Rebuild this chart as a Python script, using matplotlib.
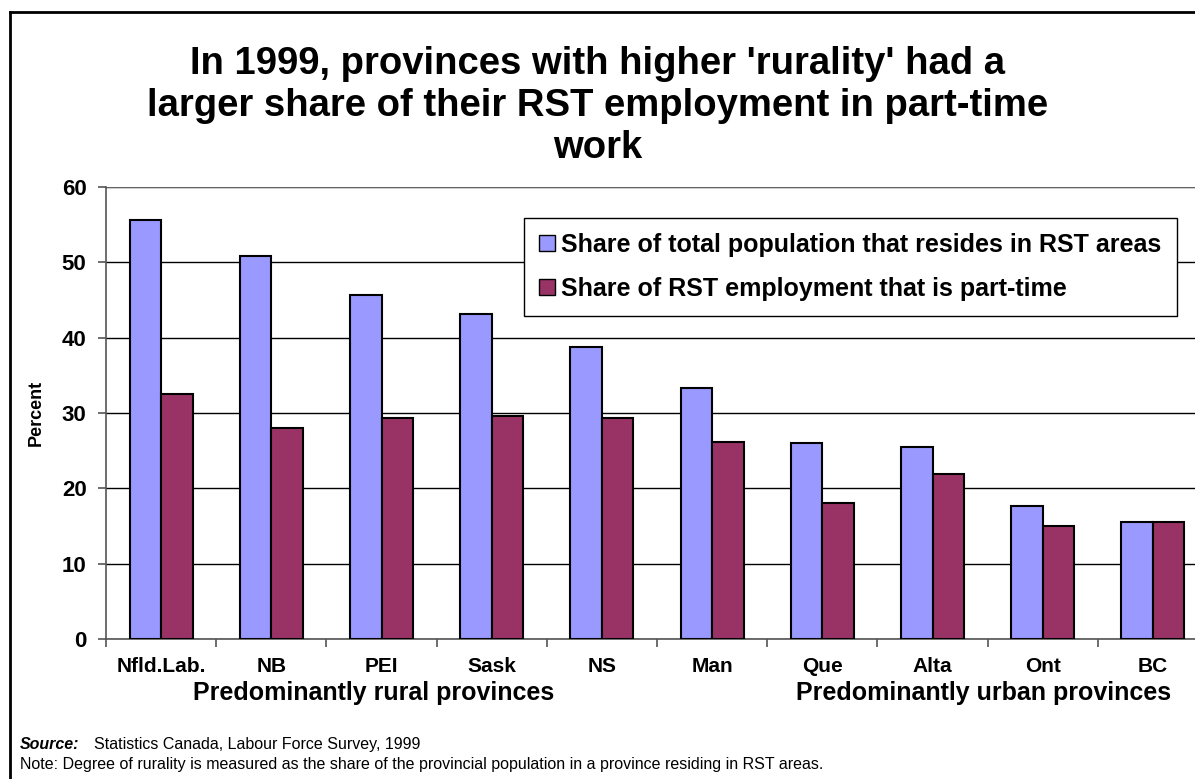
import numpy as np
import matplotlib
matplotlib.use("Agg")
import matplotlib.pyplot as plt
from matplotlib.lines import Line2D
from matplotlib.patches import Patch

plt.rcParams['font.family'] = ['Liberation Sans', 'DejaVu Sans']

provinces = ["Nfld.Lab.", "NB", "PEI", "Sask", "NS", "Man", "Que", "Alta", "Ont", "BC"]
rst_population = [55.6, 50.8, 45.6, 43.2, 38.7, 33.3, 26.0, 25.5, 17.7, 15.5]
rst_part_time = [32.5, 28.0, 29.3, 29.6, 29.3, 26.1, 18.0, 21.9, 15.0, 15.5]
yticks = [0, 10, 20, 30, 40, 50, 60]

label_pop = "Share of total population that resides in RST areas"
label_pt = "Share of RST employment that is part-time"
title = "In 1999, provinces with higher 'rurality' had a\nlarger share of their RST employment in part-time\nwork"

blue = "#9999FF"
plum = "#993366"

fig = plt.figure(figsize=(11.95, 7.79), dpi=100)
ax = fig.add_axes([106 / 1195, 1 - 639 / 779, 1102 / 1195, 452 / 779])

x = np.arange(len(provinces))
w = 0.286
ax.bar(x - w / 2, rst_population, w, color=blue, edgecolor="black", linewidth=1.5, zorder=3)
ax.bar(x + w / 2, rst_part_time, w, color=plum, edgecolor="black", linewidth=1.5, zorder=3)

ax.set_xlim(-0.5, len(provinces) - 0.5)
ax.set_ylim(0, 60)
ax.set_yticks(yticks)
ax.set_yticklabels([str(v) for v in yticks], fontsize=16, fontweight="bold")
ax.yaxis.grid(True, color="black", linewidth=1.0, zorder=0)
ax.set_axisbelow(True)

ax.set_xticks(x)
ax.set_xticklabels(provinces, fontsize=15, fontweight="bold")
ax.tick_params(axis="x", length=0, pad=13)
ax.set_xticks(np.arange(len(provinces) + 1) - 0.5, minor=True)
ax.tick_params(axis="x", which="minor", length=6, width=1.2, color="#555555", direction="out")
ax.tick_params(axis="y", length=6, width=1.2, color="#555555", direction="out", pad=8)

for s in ["top", "right"]:
    ax.spines[s].set_visible(False)
ax.spines["left"].set_color("#555555")
ax.spines["bottom"].set_color("#555555")
ax.spines["left"].set_linewidth(1.2)
ax.spines["bottom"].set_linewidth(1.2)
ax.axhline(60, color="#777777", linewidth=1.2, zorder=1)

ax.set_ylabel("Percent", fontsize=13, fontweight="bold")
ax.yaxis.set_label_coords(-(106 - 45) / 1102, 0.5)

leg = ax.legend(handles=[Patch(facecolor=blue, edgecolor="black", label=label_pop),
                         Patch(facecolor=plum, edgecolor="black", label=label_pt)],
                loc="upper left", bbox_to_anchor=((524 - 106) / 1102, (639 - 218) / 452),
                borderaxespad=0, prop={"weight": "bold", "size": 18}, frameon=True,
                fancybox=False, edgecolor="black", handlelength=0.64, handleheight=0.64,
                handletextpad=0.25, labelspacing=0.8, borderpad=0.6, framealpha=1)
leg.get_frame().set_linewidth(1.0)

fig.text(0.5, 1 - 106 / 779, title, ha="center", va="center", fontsize=27.5,
         fontweight="bold", linespacing=1.2)

fig.text(374 / 1195, 1 - 693 / 779, "Predominantly rural provinces", ha="center",
         va="center", fontsize=18, fontweight="bold")
fig.text(984 / 1195, 1 - 693 / 779, "Predominantly urban provinces", ha="center",
         va="center", fontsize=18, fontweight="bold")

fig.text(20 / 1195, 1 - 749 / 779, "Source:", fontsize=11.5, fontweight="bold",
         fontstyle="italic", va="baseline")
fig.text(94 / 1195, 1 - 749 / 779, "Statistics Canada, Labour Force Survey, 1999",
         fontsize=11.5, va="baseline")
fig.text(20 / 1195, 1 - 769 / 779,
         "Note: Degree of rurality is measured as the share of the provincial population in a province residing in RST areas.",
         fontsize=11.5, va="baseline")

fig.add_artist(Line2D([10 / 1195, 10 / 1195], [0, 1 - 12 / 779], color="black", linewidth=2))
fig.add_artist(Line2D([10 / 1195, 1], [1 - 12 / 779, 1 - 12 / 779], color="black", linewidth=2))

fig.savefig("out.png", dpi=100)
